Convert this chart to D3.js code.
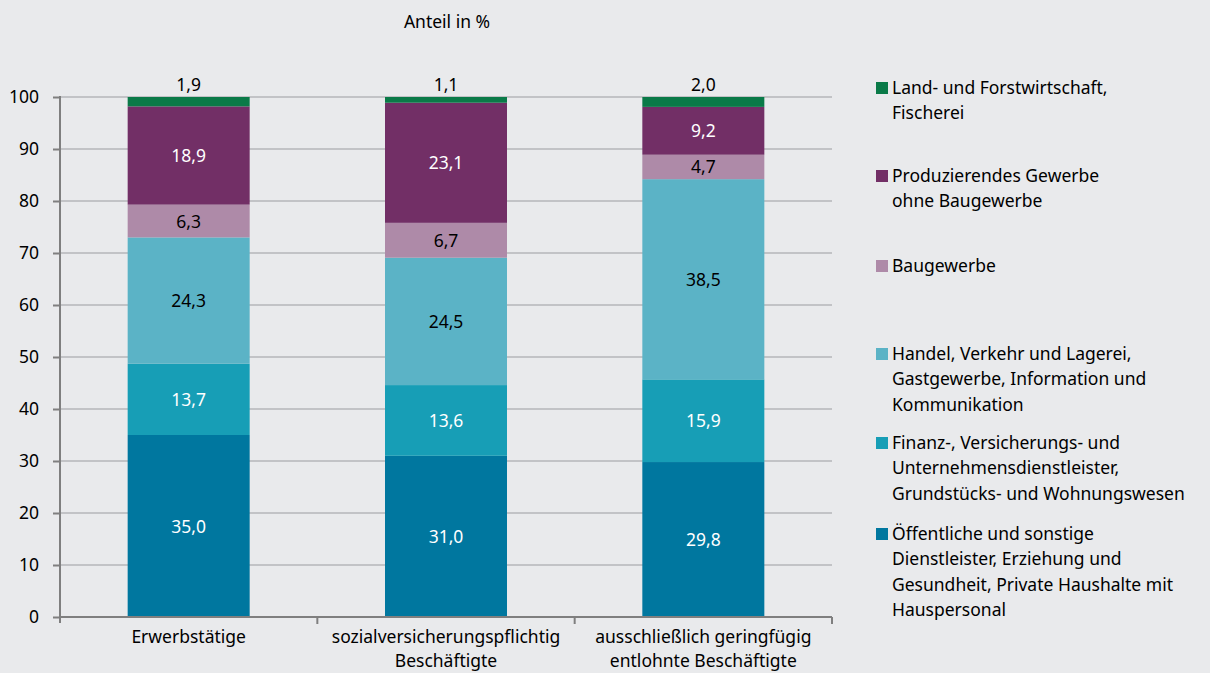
<!DOCTYPE html>
<html>
<head>
<meta charset="utf-8">
<script src="https://cdn.jsdelivr.net/npm/d3@7"></script>
<style>
  html, body { margin: 0; padding: 0; background: #e9eaec; }
  svg { display: block; font-family: "Noto Sans", "Open Sans", sans-serif; }
</style>
</head>
<body>
<svg id="chart" width="1210" height="673"></svg>
<script>
// Categories (x axis), each label may span two lines
const categories = [
  ["Erwerbstätige"],
  ["sozialversicherungspflichtig", "Beschäftigte"],
  ["ausschließlich geringfügig", "entlohnte Beschäftigte"]
];

// Sectors, stacked bottom to top
const seriesNames = [
  ["Öffentliche und sonstige", "Dienstleister, Erziehung und", "Gesundheit, Private Haushalte mit", "Hauspersonal"],
  ["Finanz-, Versicherungs- und", "Unternehmensdienstleister,", "Grundstücks- und Wohnungswesen"],
  ["Handel, Verkehr und Lagerei,", "Gastgewerbe, Information und", "Kommunikation"],
  ["Baugewerbe"],
  ["Produzierendes Gewerbe", "ohne Baugewerbe"],
  ["Land- und Forstwirtschaft,", "Fischerei"]
];
const seriesColors = ["#00779f", "#179eb6", "#5bb3c6", "#ae8aa8", "#722f66", "#0a7a48"];
const labelColors  = ["#ffffff", "#ffffff", "#000000", "#000000", "#ffffff", "#000000"];

// Shares in % per sector, one value per category
const oeffentliche = [35.0, 31.0, 29.8];
const finanz       = [13.7, 13.6, 15.9];
const handel       = [24.3, 24.5, 38.5];
const bau          = [6.3, 6.7, 4.7];
const produzierend = [18.9, 23.1, 9.2];
const landForst    = [1.9, 1.1, 2.0];
const seriesValues = [oeffentliche, finanz, handel, bau, produzierend, landForst];

const yTicks = [0, 10, 20, 30, 40, 50, 60, 70, 80, 90, 100];

const svg = d3.select("#chart");
const plotLeft = 60, plotRight = 832, plotTop = 97, plotBottom = 617;
const fs = 17.5;

const x = d3.scaleBand().domain(d3.range(categories.length)).range([plotLeft, plotRight]).paddingInner(0).paddingOuter(0);
const y = d3.scaleLinear().domain([0, 100]).range([plotBottom, plotTop]);
const barW = 122;

// gridlines
svg.append("g").selectAll("line").data(yTicks.filter(t => t > 0)).join("line")
  .attr("x1", plotLeft).attr("x2", plotRight)
  .attr("y1", d => y(d)).attr("y2", d => y(d))
  .attr("stroke", "#c2c3c6").attr("stroke-width", 2);

// stacked data
const rows = categories.map((c, i) => {
  const r = { i };
  seriesValues.forEach((s, k) => r[k] = s[i]);
  return r;
});
const stack = d3.stack().keys(d3.range(seriesValues.length));
const stacked = stack(rows);

const bars = svg.append("g");
stacked.forEach((layer, k) => {
  bars.append("g").selectAll("rect").data(layer).join("rect")
    .attr("x", d => x(d.data.i) + x.bandwidth() / 2 - barW / 2)
    .attr("width", barW)
    .attr("y", d => y(Math.min(d[1], 100)))
    .attr("height", d => y(d[0]) - y(Math.min(d[1], 100)))
    .attr("fill", seriesColors[k]);
});

// value labels
const fmt = v => v.toFixed(1).replace(".", ",");
stacked.forEach((layer, k) => {
  svg.append("g").selectAll("text").data(layer).join("text")
    .attr("x", d => x(d.data.i) + x.bandwidth() / 2)
    .attr("y", d => k === seriesValues.length - 1 ? y(100) - 6 : y((d[0] + d[1]) / 2) + 6.5)
    .attr("text-anchor", "middle")
    .attr("font-size", fs)
    .attr("fill", labelColors[k])
    .text(d => fmt(d.data[k]));
});

// y axis
const yAxis = svg.append("g").attr("transform", `translate(${plotLeft},0)`)
  .call(d3.axisLeft(y).tickValues(yTicks).tickSize(7).tickPadding(14).tickFormat(d3.format("d")));
yAxis.select(".domain").attr("stroke", "#7f7f7f").attr("stroke-width", 2).attr("d", `M0,${plotTop - 1}V${plotBottom + 6}`);
yAxis.selectAll(".tick line").attr("stroke", "#7f7f7f").attr("stroke-width", 2);
yAxis.selectAll(".tick text").attr("font-size", fs).attr("fill", "#000").attr("font-family", "Noto Sans, Open Sans, sans-serif");

// x axis baseline and category separators
svg.append("line").attr("x1", plotLeft).attr("x2", plotRight).attr("y1", plotBottom).attr("y2", plotBottom)
  .attr("stroke", "#7f7f7f").attr("stroke-width", 2);
const seps = d3.range(categories.length + 1).map(i => i < categories.length ? x(i) : plotRight);
svg.append("g").selectAll("line").data(seps.slice(1)).join("line")
  .attr("x1", d => d).attr("x2", d => d).attr("y1", plotBottom).attr("y2", plotBottom + 7)
  .attr("stroke", "#7f7f7f").attr("stroke-width", 2);

// category labels
categories.forEach((lines, i) => {
  const t = svg.append("text").attr("text-anchor", "middle").attr("font-size", fs).attr("fill", "#000");
  lines.forEach((ln, j) => {
    t.append("tspan").attr("x", x(i) + x.bandwidth() / 2).attr("y", 643 + j * 24).text(ln);
  });
});

// axis title
svg.append("text").attr("x", 447).attr("y", 28).attr("text-anchor", "middle")
  .attr("font-size", fs).attr("fill", "#000").text("Anteil in %");

// legend, top entry first
const legendTops = [94, 182, 272, 360, 449, 540];
const legendOrder = d3.range(seriesValues.length).reverse();
legendOrder.forEach((k, idx) => {
  const y0 = legendTops[idx];
  svg.append("rect").attr("x", 876).attr("y", y0 - 12).attr("width", 12).attr("height", 12).attr("fill", seriesColors[k]);
  const t = svg.append("text").attr("font-size", fs).attr("fill", "#000");
  seriesNames[k].forEach((ln, j) => {
    t.append("tspan").attr("x", 892).attr("y", y0 + j * 25.3).text(ln);
  });
});
</script>
</body>
</html>
